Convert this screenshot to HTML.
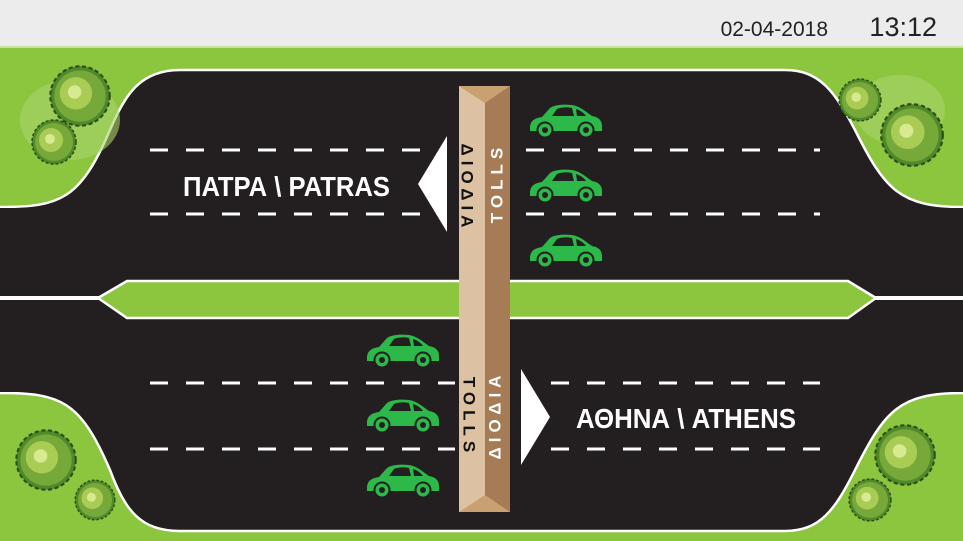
<!DOCTYPE html>
<html><head><meta charset="utf-8"><style>
html,body{margin:0;padding:0;width:963px;height:541px;overflow:hidden;background:#8cc63f}
svg{display:block}
</style></head><body>
<svg width="963" height="541" viewBox="0 0 963 541" xmlns="http://www.w3.org/2000/svg">
<defs>
<g id="car">
<path d="M2,24 C2,16 8,14 14,13 L22,4 C26,1 34,0 44,1 C52,2 58,8 64,12 C70,13 74,16 74,22 L74,27 L2,27 Z" fill="#2db84a"/>
<path d="M24,12 L29,5 C33,3 40,3 44,4 L46,12 Z M49,12 L48,5 C52,6 56,9 58,12 Z" fill="#231f20"/>
<circle cx="17" cy="26" r="7.5" fill="#2db84a" stroke="#231f20" stroke-width="2"/>
<circle cx="17" cy="26" r="3" fill="#231f20"/>
<circle cx="58" cy="26" r="7.5" fill="#2db84a" stroke="#231f20" stroke-width="2"/>
<circle cx="58" cy="26" r="3" fill="#231f20"/>
</g>
<g id="tree">
<circle r="22" fill="#4f8a2a"/>
<circle r="19" fill="#77a83a"/>
<circle cx="-3" cy="-2" r="12" fill="#a9cc55"/>
<circle cx="-4" cy="-3" r="5" fill="#d8ea90"/>
<circle r="22" fill="none" stroke="#2e4a14" stroke-width="1.5" stroke-dasharray="3 2"/>
</g>
</defs>
<rect x="0" y="0" width="963" height="46" fill="#ececec"/>
<text x="828" y="36" text-anchor="end" font-family="Liberation Sans, sans-serif" font-size="21" fill="#222">02-04-2018</text>
<text x="937" y="36" text-anchor="end" font-family="Liberation Sans, sans-serif" font-size="27" fill="#222">13:12</text>
<rect x="0" y="46" width="963" height="495" fill="#8cc63f"/>
<rect x="0" y="46" width="963" height="2" fill="#c9e39f"/>
<!-- road -->
<path d="M0,207 C60,207 80,200 110,130 C125,95 140,70 180,70 L785,70 C820,70 835,92 855,130 C885,190 900,207 963,207 L963,393 C900,393 885,410 855,470 C835,510 820,531 785,531 L180,531 C140,531 125,510 110,470 C80,400 60,393 0,393 Z" fill="#231f20" stroke="#fff" stroke-width="2.5"/>
<rect x="0" y="208" width="963" height="184" fill="#231f20"/>
<!-- median -->
<rect x="0" y="296" width="100" height="4" fill="#fff"/>
<rect x="873" y="296" width="90" height="4" fill="#fff"/>
<polygon points="98,298 127,281 848,281 876,298 848,318 127,318" fill="#8cc63f" stroke="#fff" stroke-width="2.5"/>
<!-- dashes -->
<g stroke="#fff" stroke-width="3" stroke-dasharray="18 18">
<line x1="150" y1="150" x2="420" y2="150"/><line x1="526" y1="150" x2="820" y2="150"/>
<line x1="150" y1="214" x2="420" y2="214"/><line x1="526" y1="214" x2="820" y2="214"/>
<line x1="150" y1="383" x2="455" y2="383"/><line x1="551" y1="383" x2="820" y2="383"/>
<line x1="150" y1="449" x2="455" y2="449"/><line x1="551" y1="449" x2="820" y2="449"/>
</g>
<!-- arrows -->
<polygon points="447,136 447,232 418,184" fill="#fff"/>
<polygon points="521,369 521,465 550,417" fill="#fff"/>
<!-- booth -->
<rect x="459" y="86" width="26" height="426" fill="#dcc2a3"/>
<rect x="485" y="86" width="25" height="426" fill="#a67c56"/>
<polygon points="459,86 510,86 485,103" fill="#c9a071"/>
<polygon points="459,512 510,512 485,495" fill="#c9a071"/>
<text transform="translate(466,188) rotate(90)" text-anchor="middle" dominant-baseline="middle" font-family="Liberation Sans, sans-serif" font-size="17" font-weight="bold" fill="#111" letter-spacing="5">ΔΙΟΔΙΑ</text>
<text transform="translate(498,183) rotate(-90)" text-anchor="middle" dominant-baseline="middle" font-family="Liberation Sans, sans-serif" font-size="17" font-weight="bold" fill="#fff" letter-spacing="5">TOLLS</text>
<text transform="translate(468,417) rotate(90)" text-anchor="middle" dominant-baseline="middle" font-family="Liberation Sans, sans-serif" font-size="17" font-weight="bold" fill="#111" letter-spacing="5">TOLLS</text>
<text transform="translate(496,415) rotate(-90)" text-anchor="middle" dominant-baseline="middle" font-family="Liberation Sans, sans-serif" font-size="17" font-weight="bold" fill="#fff" letter-spacing="5">ΔΙΟΔΙΑ</text>
<!-- labels -->
<text x="183" y="196" font-family="Liberation Sans, sans-serif" font-size="28" font-weight="bold" fill="#fff" textLength="207" lengthAdjust="spacingAndGlyphs">ΠΑΤΡΑ \ PATRAS</text>
<text x="576" y="428" font-family="Liberation Sans, sans-serif" font-size="28" font-weight="bold" fill="#fff" textLength="220" lengthAdjust="spacingAndGlyphs">ΑΘΗΝΑ \ ATHENS</text>
<!-- cars -->
<use href="#car" x="528" y="104"/>
<use href="#car" x="528" y="169"/>
<use href="#car" x="528" y="234"/>
<use href="#car" x="365" y="334"/>
<use href="#car" x="365" y="399"/>
<use href="#car" x="365" y="464"/>
<!-- trees -->
<ellipse cx="70" cy="120" rx="50" ry="40" fill="#a8d46a" opacity="0.6"/>
<use href="#tree" transform="translate(80,96) scale(1.35)"/>
<use href="#tree" transform="translate(54,142) scale(1.0)"/>
<ellipse cx="900" cy="110" rx="45" ry="35" fill="#a8d46a" opacity="0.6"/>
<use href="#tree" transform="translate(860,100) scale(0.95)"/>
<use href="#tree" transform="translate(912,135) scale(1.4)"/>
<use href="#tree" transform="translate(46,460) scale(1.35)"/>
<use href="#tree" transform="translate(95,500) scale(0.9)"/>
<use href="#tree" transform="translate(905,455) scale(1.35)"/>
<use href="#tree" transform="translate(870,500) scale(0.95)"/>
</svg>
</body></html>
